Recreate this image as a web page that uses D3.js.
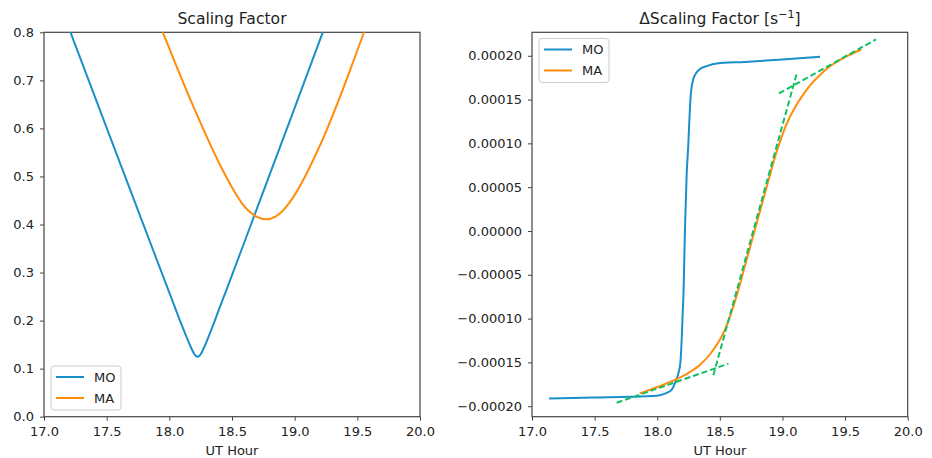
<!DOCTYPE html>
<html><head><meta charset="utf-8">
<script src="https://cdn.jsdelivr.net/npm/d3@7"></script>
<style>
html,body{margin:0;padding:0;background:#fff;}
svg{display:block;font-family:"DejaVu Sans",sans-serif;}
</style></head>
<body>
<svg id="chart" width="932" height="458"></svg>
<script>
// ---------- data ----------
const xTicks = [17.0, 17.5, 18.0, 18.5, 19.0, 19.5, 20.0];
const leftYTicks = [0.0, 0.1, 0.2, 0.3, 0.4, 0.5, 0.6, 0.7, 0.8];
const rightYTicks = [-0.0002, -0.00015, -0.0001, -0.00005, 0, 0.00005, 0.0001, 0.00015, 0.0002];
const seriesNames = ["MO", "MA"];
const seriesColors = ["#1a8fc9", "#ff8c0a"];
const fitColor = "#10c065";

// Scaling factor (left panel)
const moHour = [17.13, 17.5, 17.8, 18.0, 18.05, 18.1, 18.15, 18.175, 18.2, 18.21, 18.225, 18.24, 18.25, 18.275, 18.3, 18.35, 18.4, 18.45, 18.65, 18.95, 19.25, 19.30];
const moScale = [0.856, 0.601, 0.395, 0.258, 0.224, 0.190, 0.158, 0.143, 0.130, 0.127, 0.125, 0.127, 0.130, 0.143, 0.158, 0.191, 0.226, 0.260, 0.399, 0.608, 0.818, 0.853];
const maHour = [17.86, 17.95, 18.05, 18.15, 18.25, 18.34, 18.42, 18.475, 18.53, 18.58, 18.63, 18.70, 18.773, 18.85, 18.895, 18.954, 19.02, 19.087, 19.14, 19.24, 19.30, 19.38, 19.46, 19.55, 19.63];
const maScale = [0.859, 0.799, 0.734, 0.671, 0.611, 0.559, 0.516, 0.489, 0.464, 0.444, 0.429, 0.416, 0.411, 0.417, 0.426, 0.444, 0.470, 0.502, 0.530, 0.587, 0.625, 0.678, 0.734, 0.798, 0.857];

// Delta scaling factor (right panel), s^-1
const moDHour = [17.136, 17.5, 17.78, 17.95, 18.02, 18.08, 18.116, 18.15, 18.17, 18.185, 18.195, 18.203, 18.21, 18.222, 18.235, 18.245, 18.267, 18.288, 18.31, 18.341, 18.40, 18.475, 18.70, 19.00, 19.30];
const moDelta = [-0.0001912, -0.0001900, -0.0001893, -0.0001885, -0.0001875, -0.0001845, -0.0001810, -0.0001706, -0.0001620, -0.0001500, -0.0001250, -0.0000950, -0.0000700, 0.0000050, 0.0000650, 0.0000900, 0.0001543, 0.0001734, 0.0001800, 0.0001848, 0.0001885, 0.0001913, 0.0001930, 0.0001958, 0.0001989];
const maDHour = [17.86, 17.95, 18.05, 18.15, 18.25, 18.34, 18.42, 18.475, 18.53, 18.58, 18.63, 18.70, 18.773, 18.85, 18.90, 18.95, 19.00, 19.05, 19.10, 19.15, 19.20, 19.25, 19.30, 19.35, 19.40, 19.45, 19.50, 19.55, 19.63];
const maDelta = [-0.0001855, -0.0001808, -0.0001755, -0.0001695, -0.0001620, -0.0001530, -0.0001410, -0.0001300, -0.0001160, -0.0000980, -0.0000760, -0.0000400, -0.0000020, 0.0000380, 0.0000640, 0.0000890, 0.0001100, 0.0001275, 0.0001410, 0.0001525, 0.0001625, 0.0001710, 0.0001780, 0.0001845, 0.0001900, 0.0001945, 0.0001985, 0.0002020, 0.0002072];

// Green dashed tangent lines (endpoints: hour, value)
const fitLines = [
  [[17.676, -0.0001961], [18.568, -0.0001515]],
  [[18.448, -0.0001646], [19.118, 0.0001817]],
  [[18.972, 0.0001570], [19.747, 0.0002187]]
];

// ---------- layout ----------
const svg = d3.select("#chart");
const panels = [
  {x0: 44, x1: 420, y0: 32.3, y1: 416.7},
  {x0: 532, x1: 907.7, y0: 32.3, y1: 416.7}
];
const FONT = 13;
const textColor = "#222";
const spineColor = "#444";

function drawPanel(idx, p, yDomain, yTicks, yFmt, title) {
  const x = d3.scaleLinear().domain([17, 20]).range([p.x0, p.x1]);
  const y = d3.scaleLinear().domain(yDomain).range([p.y1, p.y0]);
  const g = svg.append("g");
  const clipId = "clip" + idx;
  g.append("clipPath").attr("id", clipId).append("rect")
    .attr("x", p.x0).attr("y", p.y0).attr("width", p.x1 - p.x0).attr("height", p.y1 - p.y0);

  const xa = g.append("g").attr("transform", `translate(0,${p.y1})`)
    .call(d3.axisBottom(x).tickValues(xTicks).tickFormat(d3.format(".1f")).tickSize(4).tickPadding(6).tickSizeOuter(0));
  const ya = g.append("g").attr("transform", `translate(${p.x0},0)`)
    .call(d3.axisLeft(y).tickValues(yTicks).tickFormat(yFmt).tickSize(4).tickPadding(6).tickSizeOuter(0));
  [xa, ya].forEach(a => {
    a.select(".domain").remove();
    a.selectAll("line").attr("stroke", spineColor).attr("stroke-width", 1);
    a.selectAll("text").attr("font-size", FONT).attr("fill", textColor).attr("font-family", "DejaVu Sans");
  });
  // frame
  g.append("rect").attr("x", p.x0).attr("y", p.y0).attr("width", p.x1 - p.x0).attr("height", p.y1 - p.y0)
    .attr("fill", "none").attr("stroke", spineColor).attr("stroke-width", 1.2);

  // x label
  g.append("text").attr("x", (p.x0 + p.x1) / 2).attr("y", 455).attr("text-anchor", "middle")
    .attr("font-size", FONT).attr("fill", textColor).text("UT Hour");
  // title
  const t = g.append("text").attr("x", (p.x0 + p.x1) / 2).attr("y", 24).attr("text-anchor", "middle")
    .attr("font-size", 15.6).attr("fill", textColor);
  title(t);
  return {x, y, g, clipId};
}

// Left panel
const L = drawPanel(0, panels[0], [0, 0.8], leftYTicks, d3.format(".1f"), t => t.text("Scaling Factor"));
const lineL = d3.line().x(d => L.x(d[0])).y(d => L.y(d[1])).curve(d3.curveMonotoneX);
const plotL = L.g.append("g").attr("clip-path", `url(#${L.clipId})`);
plotL.append("path").datum(moHour.map((h, i) => [h, moScale[i]]))
  .attr("d", lineL).attr("fill", "none").attr("stroke", seriesColors[0]).attr("stroke-width", 2);
plotL.append("path").datum(maHour.map((h, i) => [h, maScale[i]]))
  .attr("d", lineL).attr("fill", "none").attr("stroke", seriesColors[1]).attr("stroke-width", 2);

// Right panel
const fmtR = v => (Math.abs(v) < 1e-12 ? "0.00000" : d3.format(".5f")(v));
const R = drawPanel(1, panels[1], [-0.000212, 0.0002268], rightYTicks, fmtR, t => {
  t.append("tspan").text("\u0394Scaling Factor [s");
  t.append("tspan").attr("dy", -6).attr("font-size", 11).text("\u22121");
  t.append("tspan").attr("dy", 6).text("]");
});
const lineR = d3.line().x(d => R.x(d[0])).y(d => R.y(d[1])).curve(d3.curveMonotoneX);
const plotR = R.g.append("g").attr("clip-path", `url(#${R.clipId})`);
plotR.append("path").datum(moDHour.map((h, i) => [h, moDelta[i]]))
  .attr("d", lineR).attr("fill", "none").attr("stroke", seriesColors[0]).attr("stroke-width", 2);
plotR.append("path").datum(maDHour.map((h, i) => [h, maDelta[i]]))
  .attr("d", lineR).attr("fill", "none").attr("stroke", seriesColors[1]).attr("stroke-width", 2);
const straight = d3.line().x(d => R.x(d[0])).y(d => R.y(d[1]));
fitLines.forEach(seg => {
  plotR.append("path").datum(seg).attr("d", straight).attr("fill", "none")
    .attr("stroke", fitColor).attr("stroke-width", 2).attr("stroke-dasharray", "6,3");
});

// Legends
function legend(g, bx, by) {
  const lg = g.append("g");
  lg.append("rect").attr("x", bx).attr("y", by).attr("width", 70).attr("height", 44).attr("rx", 3)
    .attr("fill", "#fff").attr("fill-opacity", 0.8).attr("stroke", "#cccccc").attr("stroke-width", 1);
  seriesNames.forEach((n, i) => {
    const yy = by + 11 + i * 21;
    lg.append("line").attr("x1", bx + 5).attr("x2", bx + 33).attr("y1", yy).attr("y2", yy)
      .attr("stroke", seriesColors[i]).attr("stroke-width", 2);
    lg.append("text").attr("x", bx + 43).attr("y", yy).attr("dy", "0.35em")
      .attr("font-size", FONT).attr("fill", textColor).text(n);
  });
}
legend(L.g, 51, 366);
legend(R.g, 539, 38.5);
</script>
</body></html>
